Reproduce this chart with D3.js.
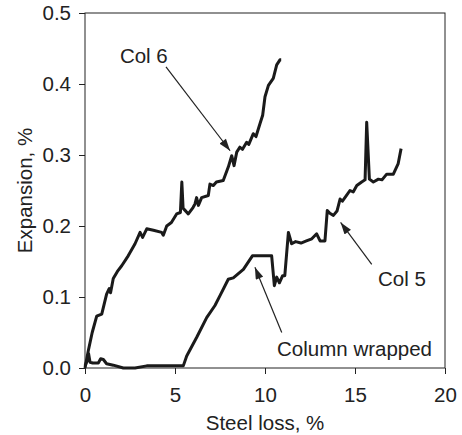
<!DOCTYPE html>
<html>
<head>
<meta charset="utf-8">
<script src="https://cdn.jsdelivr.net/npm/d3@7"></script>
<style>
  body { margin: 0; background: #fff; }
  text { font-family: "Liberation Sans", Arial, sans-serif; fill: #222; }
</style>
</head>
<body>
<div id="chart"></div>
<script>
// data: [steel loss %, expansion %]
var col6 = [[0,0],[0.18,0.024],[0.4,0.05],[0.65,0.073],[0.93,0.076],[1.2,0.104],[1.35,0.112],[1.42,0.106],
  [1.57,0.126],[1.8,0.136],[2.04,0.144],[2.4,0.158],[2.78,0.175],[3.06,0.191],[3.2,0.184],[3.43,0.196],
  [3.8,0.194],[4.26,0.191],[4.35,0.187],[4.54,0.2],[4.8,0.205],[5.09,0.217],[5.3,0.219],[5.38,0.262],
  [5.45,0.225],[5.56,0.222],[5.74,0.217],[6.0,0.226],[6.11,0.231],[6.2,0.24],[6.3,0.229],[6.48,0.24],
  [6.85,0.243],[6.94,0.259],[7.13,0.257],[7.3,0.262],[7.68,0.264],[7.96,0.283],[8.15,0.299],[8.28,0.285],
  [8.43,0.304],[8.6,0.311],[8.75,0.308],[8.98,0.318],[9.1,0.315],[9.35,0.33],[9.5,0.326],[9.72,0.344],
  [9.87,0.356],[10.0,0.382],[10.19,0.398],[10.46,0.408],[10.65,0.427],[10.83,0.434],[10.9,0.434]];

var col5 = [[0,0.003],[0.12,0.01],[0.2,0.02],[0.28,0.008],[0.43,0.007],[0.74,0.007],[0.87,0.013],[1.02,0.012],
  [1.2,0.006],[1.57,0.004],[2.13,0.0],[2.78,0.0],[3.43,0.003],[5.46,0.003],[5.65,0.017],[6.2,0.043],
  [6.76,0.071],[7.22,0.088],[7.5,0.102],[7.96,0.125],[8.24,0.127],[8.8,0.139],[9.3,0.158],[10.37,0.158],
  [10.52,0.116],[10.65,0.128],[10.8,0.12],[10.98,0.13],[11.1,0.13],[11.3,0.191],[11.48,0.175],[11.7,0.178],
  [12.0,0.176],[12.3,0.179],[12.6,0.182],[12.87,0.189],[13.06,0.179],[13.33,0.179],[13.46,0.222],[13.6,0.218],
  [13.8,0.215],[14.0,0.221],[14.17,0.238],[14.3,0.235],[14.5,0.242],[14.72,0.25],[14.9,0.248],[15.1,0.257],
  [15.37,0.262],[15.56,0.265],[15.65,0.346],[15.8,0.266],[16.02,0.262],[16.3,0.266],[16.5,0.265],
  [16.76,0.273],[17.13,0.273],[17.4,0.288],[17.56,0.309]];

var xTicks = [0, 5, 10, 15, 20];
var yTicks = [0, 0.1, 0.2, 0.3, 0.4, 0.5];

// label text, text anchor point, arrow start, arrow tip (data units)
var notes = [
  { label: "Col 6", text: [1.94, 0.429], from: [4.5, 0.424], to: [8.06, 0.306] },
  { label: "Col 5", text: [16.28, 0.116], from: [15.93, 0.146], to: [14.2, 0.205] },
  { label: "Column wrapped", text: [10.67, 0.017], from: [10.93, 0.05], to: [9.44, 0.142] }
];

var width = 462, height = 435;
var margin = { top: 13, right: 17, bottom: 67, left: 85 };
var w = width - margin.left - margin.right;
var h = height - margin.top - margin.bottom;

var svg = d3.select("#chart").append("svg")
  .attr("width", width).attr("height", height);

var defs = svg.append("defs");
defs.append("marker")
  .attr("id", "head")
  .attr("markerUnits", "userSpaceOnUse")
  .attr("viewBox", "0 0 12 8")
  .attr("refX", 12).attr("refY", 4)
  .attr("markerWidth", 13).attr("markerHeight", 8)
  .attr("orient", "auto")
  .append("path")
  .attr("d", "M0,0 L12,4 L0,8 Z")
  .attr("fill", "#222");

var g = svg.append("g").attr("transform", "translate(" + margin.left + "," + margin.top + ")");

var x = d3.scaleLinear().domain([0, 20]).range([0, w]);
var y = d3.scaleLinear().domain([0, 0.5]).range([h, 0]);

// axes
var xAxis = g.append("g").attr("transform", "translate(0," + h + ")")
  .call(d3.axisBottom(x).tickValues(xTicks).tickFormat(d3.format("d")).tickSize(6).tickPadding(13));
var yAxis = g.append("g")
  .call(d3.axisLeft(y).tickValues(yTicks).tickFormat(d3.format(".1f")).tickSize(6).tickPadding(8));

[xAxis, yAxis].forEach(function(a) {
  a.select(".domain").remove();
  a.selectAll("line").attr("stroke", "#222");
  a.selectAll("text").style("font-size", "20.5px").attr("fill", "#222");
});

// frame
g.append("rect")
  .attr("width", w).attr("height", h)
  .attr("fill", "none").attr("stroke", "#222").attr("stroke-width", 1);

// titles
svg.append("text")
  .attr("x", margin.left + w / 2).attr("y", 430)
  .attr("text-anchor", "middle")
  .style("font-size", "20.5px")
  .text("Steel loss, %");

svg.append("text")
  .attr("transform", "translate(32," + (margin.top + h / 2) + ") rotate(-90)")
  .attr("text-anchor", "middle")
  .style("font-size", "20.5px")
  .text("Expansion, %");

// series
var line = d3.line().x(function(d) { return x(d[0]); }).y(function(d) { return y(d[1]); });

[col6, col5].forEach(function(s) {
  g.append("path")
    .datum(s)
    .attr("d", line)
    .attr("fill", "none")
    .attr("stroke", "#1a1a1a")
    .attr("stroke-width", 3)
    .attr("stroke-linejoin", "round");
});

// annotations
notes.forEach(function(n) {
  g.append("line")
    .attr("x1", x(n.from[0])).attr("y1", y(n.from[1]))
    .attr("x2", x(n.to[0])).attr("y2", y(n.to[1]))
    .attr("stroke", "#222").attr("stroke-width", 1.2)
    .attr("marker-end", "url(#head)");
  g.append("text")
    .attr("x", x(n.text[0])).attr("y", y(n.text[1]))
    .style("font-size", "20.5px")
    .text(n.label);
});
</script>
</body>
</html>
